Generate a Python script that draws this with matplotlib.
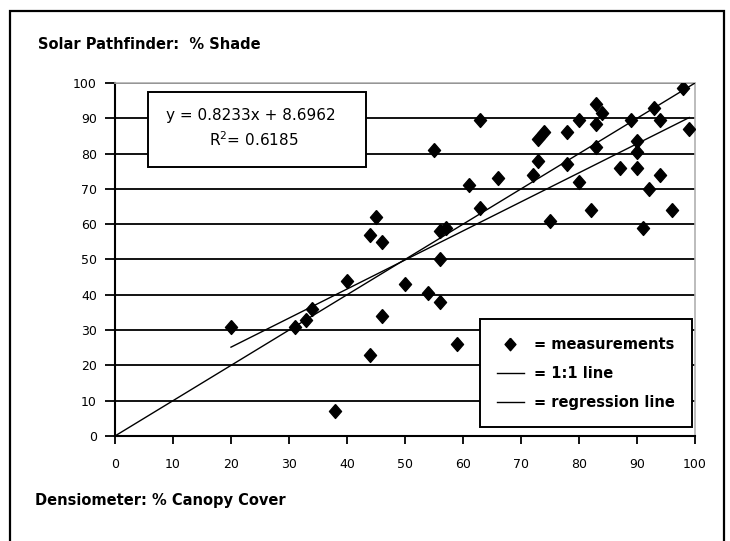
import numpy as np
import matplotlib.pyplot as plt
from matplotlib.lines import Line2D
from matplotlib.patches import Rectangle

# Data
canopy = [20, 31, 33, 34, 38, 40, 44, 44, 45, 46, 46, 50, 54, 55, 56, 56, 56, 57,
          59, 61, 63, 63, 66, 72, 73, 73, 74, 75, 78, 78, 80, 80, 82, 83, 84, 83,
          83, 87, 89, 90, 90, 90, 91, 92, 93, 94, 94, 96, 98, 99]
shade = [31, 31, 33, 36, 7, 44, 23, 57, 62, 55, 34, 43, 40.5, 81, 38, 50, 58, 59,
         26, 71, 89.5, 64.5, 73, 74, 78, 84, 86, 61, 77, 86, 72, 89.5, 64, 94, 91.5, 88.5,
         82, 76, 89.5, 83.5, 80.5, 76, 59, 70, 93, 89.5, 74, 64, 98.5, 87]
slope = 0.8233
intercept = 8.6962
r2 = 0.6185
yticks = [0, 10, 20, 30, 40, 50, 60, 70, 80, 90, 100]
xticks = [0, 10, 20, 30, 40, 50, 60, 70, 80, 90, 100]

# slightly tall diamond like the Excel marker
diamond = [(0, 1.15), (1, 0), (0, -1.15), (-1, 0), (0, 1.15)]

fig = plt.figure(figsize=(7.3, 5.41), dpi=100)
ax = fig.add_axes([0.1575, 0.1941, 0.7946, 0.6525])

# outer frame of the figure
fig.patches.append(Rectangle((10 / 730, -0.1), 714 / 730, 1.1 - 11 / 541,
                             transform=fig.transFigure, fill=False,
                             edgecolor='black', lw=1.6))

# 1:1 line and regression line
one = np.array([0, 100])
ax.plot(one, one, color='black', lw=1.0, zorder=3)
xr = np.array([min(canopy), max(canopy)])
ax.plot(xr, slope * xr + intercept, color='black', lw=1.0, zorder=3)

# measurements
ax.plot(canopy, shade, linestyle='none', marker=diamond, ms=10, color='black', zorder=4)

ax.set_xlim(0, 100)
ax.set_ylim(0, 100)
ax.set_xticks(xticks)
ax.set_yticks(yticks)
ax.tick_params(axis='x', direction='out', length=6, width=1.3, pad=10, labelsize=9)
ax.tick_params(axis='y', direction='out', length=7, width=1.3, pad=6, labelsize=9)
ax.yaxis.grid(True, color='black', lw=1.3)
ax.set_axisbelow(True)
for s in ['left', 'bottom']:
    ax.spines[s].set_linewidth(1.5)
for s in ['top', 'right']:
    ax.spines[s].set_color('#b0b0b0')
    ax.spines[s].set_linewidth(1.2)

# equation box
ax.add_patch(Rectangle((0.057, 0.762), 0.376, 0.2125, transform=ax.transAxes,
                       facecolor='white', edgecolor='black', lw=1.4, zorder=5))
ax.text(0.235, 0.909, 'y = %.4fx + %.4f' % (slope, intercept), transform=ax.transAxes,
        ha='center', va='center', fontsize=11, zorder=6)
ax.text(0.24, 0.8385, 'R$^2$= %.4f' % r2, transform=ax.transAxes,
        ha='center', va='center', fontsize=11, zorder=6)

# legend
handles = [Line2D([], [], linestyle='none', marker=diamond, ms=9, color='black'),
           Line2D([], [], color='black', lw=1.0),
           Line2D([], [], color='black', lw=1.0)]
labels = ['= measurements', '= 1:1 line', '= regression line']
leg = ax.legend(handles, labels, loc='lower right', bbox_to_anchor=(0.995, 0.025),
                frameon=True, fancybox=False, framealpha=1, edgecolor='black',
                borderpad=1.2, labelspacing=0.95, handlelength=1.8, handletextpad=0.7,
                borderaxespad=0, prop={'weight': 'bold', 'size': 10.5})
leg.get_frame().set_linewidth(1.4)
leg.set_zorder(7)

fig.text(38 / 730, 1 - 45 / 541, 'Solar Pathfinder:  % Shade', fontsize=10.5,
         fontweight='bold', ha='left', va='center')
fig.text(35 / 730, 1 - 501 / 541, 'Densiometer: % Canopy Cover', fontsize=10.5,
         fontweight='bold', ha='left', va='center')

plt.savefig('out.png', dpi=100)
